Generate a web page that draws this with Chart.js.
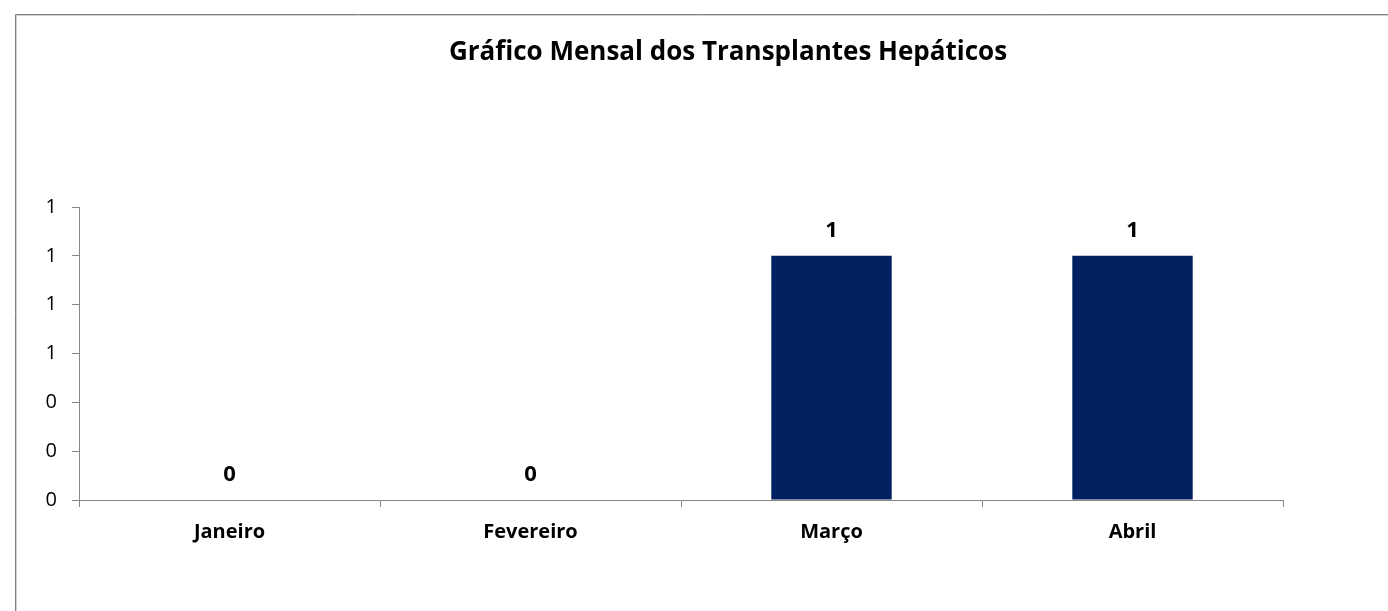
<!DOCTYPE html>
<html>
<head>
<meta charset="utf-8">
<script src="https://cdn.jsdelivr.net/npm/chart.js@4"></script>
<style>
  html, body { margin: 0; padding: 0; background: #fff; overflow: hidden; }
  #wrap { position: relative; width: 1388px; height: 611px; }
</style>
</head>
<body>
<div id="wrap"><canvas id="chart" width="1388" height="611"></canvas></div>
<script>
const chartTitle = 'Gráfico Mensal dos Transplantes Hepáticos';
const months = ['Janeiro', 'Fevereiro', 'Março', 'Abril'];
const transplants = [0, 0, 1, 1];
const yTickLabels = ['0', '0', '0', '1', '1', '1', '1'];

const FONT = '"Open Sans", Lato, sans-serif';

// frame, title and value labels (no datalabels plugin available offline)
const extras = {
    id: 'extras',
    beforeDraw(chart) {
        const ctx = chart.ctx;
        ctx.save();
        ctx.strokeStyle = '#808080';
        ctx.lineWidth = 1;
        ctx.beginPath();
        ctx.moveTo(15.5, 611);
        ctx.lineTo(15.5, 14.5);
        ctx.lineTo(1388, 14.5);
        ctx.stroke();
        ctx.strokeStyle = '#d0d0d0';
        ctx.beginPath();
        ctx.moveTo(16.5, 611);
        ctx.lineTo(16.5, 15.5);
        ctx.lineTo(1388, 15.5);
        ctx.stroke();

        ctx.fillStyle = '#000';
        ctx.font = 'bold 26px ' + FONT;
        ctx.textAlign = 'center';
        ctx.textBaseline = 'middle';
        ctx.fillText(chartTitle, 728, 53);
        ctx.restore();
    },
    afterDatasetsDraw(chart) {
        const ctx = chart.ctx;
        const meta = chart.getDatasetMeta(0);
        ctx.save();
        ctx.fillStyle = '#000';
        ctx.font = 'bold 22px ' + FONT;
        ctx.textAlign = 'center';
        ctx.textBaseline = 'middle';
        meta.data.forEach((bar, i) => {
            ctx.fillText(String(transplants[i]), bar.x, bar.y - 25);
        });
        ctx.restore();
    }
};

const ctx = document.getElementById('chart').getContext('2d');
new Chart(ctx, {
    type: 'bar',
    data: {
        labels: months,
        datasets: [{
            data: transplants,
            backgroundColor: '#002060',
            borderWidth: 0,
            barPercentage: 0.4,
            categoryPercentage: 1
        }]
    },
    options: {
        responsive: false,
        animation: false,
        layout: { padding: { top: 207, left: 0, right: 105, bottom: 0 } },
        plugins: {
            legend: { display: false },
            title: { display: false },
            tooltip: { enabled: false }
        },
        scales: {
            x: {
                offset: true,
                afterFit: (scale) => { scale.height = 111; },
                grid: {
                    offset: true,
                    drawOnChartArea: false,
                    tickLength: 7,
                    color: '#868686'
                },
                border: { display: true, color: '#868686', width: 1 },
                ticks: {
                    color: '#000',
                    padding: 13,
                    font: { family: FONT, size: 20, weight: 'bold' }
                }
            },
            y: {
                min: 0,
                max: 1.2,
                afterFit: (scale) => { scale.width = 79; },
                grid: {
                    drawOnChartArea: false,
                    tickLength: 7,
                    color: '#868686'
                },
                border: { display: true, color: '#868686', width: 1 },
                ticks: {
                    stepSize: 0.2,
                    color: '#000',
                    padding: 15,
                    font: { family: FONT, size: 20 },
                    callback: (value, index) => yTickLabels[index]
                }
            }
        }
    },
    plugins: [extras]
});
</script>
</body>
</html>
